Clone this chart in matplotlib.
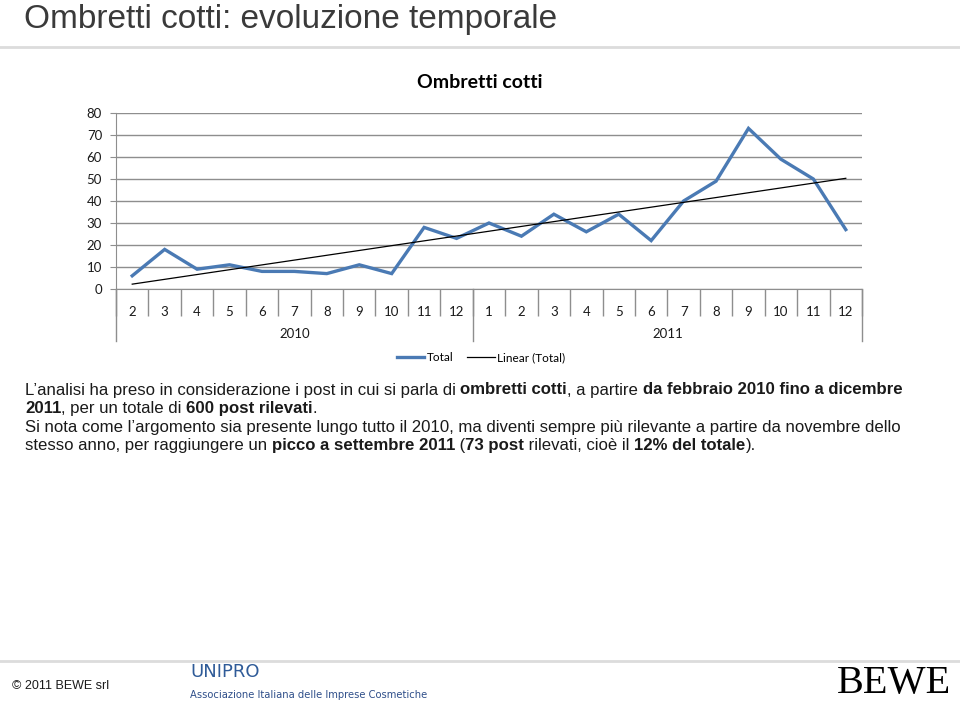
import numpy as np
import matplotlib
matplotlib.use("Agg")
import matplotlib.pyplot as plt
from matplotlib.lines import Line2D

# ---- dati (post rilevati al mese) ----
years = ["2010", "2011"]
months_2010 = [2, 3, 4, 5, 6, 7, 8, 9, 10, 11, 12]
months_2011 = [1, 2, 3, 4, 5, 6, 7, 8, 9, 10, 11, 12]
total_2010 = [6, 18, 9, 11, 8, 8, 7, 11, 7, 28, 23]
total_2011 = [30, 24, 34, 26, 34, 22, 40, 49, 73, 59, 50, 27]

months = months_2010 + months_2011
total = np.array(total_2010 + total_2011, dtype=float)
x = np.arange(len(total))

BLUE = "#4a7ab4"
GRID = "#8e8e8e"
TXT = "#1a1a1a"
CHART_FONT = "Lato"
BODY_FONT = "Liberation Sans"

fig = plt.figure(figsize=(9.6, 7.06), dpi=100)
W, H = 960, 706

def fx(px):
    return px / W

def fy(py):
    return 1 - py / H

# ---- titolo slide ----
fig.text(fx(24), fy(28), "Ombretti cotti: evoluzione temporale", fontsize=24,
         family=BODY_FONT, color="#3a3a3a", va="baseline", ha="left")
fig.add_artist(Line2D([0, 1], [fy(47), fy(47)], color="#dcdcdc", lw=2))

# ---- grafico ----
ax = fig.add_axes([fx(116), fy(289), fx(862) - fx(116), fy(113) - fy(289)])
ax.plot(x, total, color=BLUE, lw=2.4, label="Total", solid_joinstyle="miter")
slope, icpt = np.polyfit(x, total, 1)
ax.plot(x, slope * x + icpt, color="black", lw=0.9, label="Linear (Total)")

ax.set_xlim(-0.5, len(total) - 0.5)
ax.set_ylim(0, 80)
ax.set_yticks(range(0, 81, 10))
ax.yaxis.grid(True, color=GRID, lw=1)
ax.set_axisbelow(True)
for s in ["top", "right"]:
    ax.spines[s].set_visible(False)
for s in ["left", "bottom"]:
    ax.spines[s].set_color(GRID)
ax.tick_params(axis="y", length=4, color=GRID, pad=6, labelsize=9.5,
               labelcolor=TXT)
for lab in ax.get_yticklabels():
    lab.set_family(CHART_FONT)

ax.set_xticks(x)
ax.set_xticklabels([str(m) for m in months], family=CHART_FONT, fontsize=9.5,
                   color=TXT)
ax.set_xticks(np.arange(-0.5, len(total)), minor=True)
ax.tick_params(axis="x", which="major", length=0, pad=12)
ax.tick_params(axis="x", which="minor", length=19.5, color=GRID, width=1)

# livello anni
trans = ax.get_xaxis_transform()
bounds = np.cumsum([0, len(months_2010), len(months_2011)]) - 0.5
for b in bounds:
    ax.plot([b, b], [0, -0.295], transform=trans, color=GRID, lw=1,
            clip_on=False)
for i, yr in enumerate(years):
    ax.text((bounds[i] + bounds[i + 1]) / 2, -0.255, yr, transform=trans,
            ha="center", va="center", family=CHART_FONT, fontsize=9.5,
            color=TXT)

fig.text(0.5, fy(82), "Ombretti cotti", ha="center", va="center",
         family=CHART_FONT, fontweight="bold", fontsize=14, color="black")

handles, labels = ax.get_legend_handles_labels()
fig.legend(handles, labels, loc="center", bbox_to_anchor=(fx(481), fy(358)),
           ncol=2, frameon=False, prop={"family": CHART_FONT, "size": 8.5},
           handlelength=2.3, handletextpad=0.2, columnspacing=1.2)

# ---- testo descrittivo ----
renderer = fig.canvas.get_renderer()

def text_width(s, bold, size):
    t = fig.text(0, 0, s + "l", fontsize=size, family=BODY_FONT,
                 fontweight="bold" if bold else "normal")
    t2 = fig.text(0, 0, "l", fontsize=size, family=BODY_FONT,
                  fontweight="bold" if bold else "normal")
    w = t.get_window_extent(renderer).width - t2.get_window_extent(renderer).width
    t.remove()
    t2.remove()
    return w

def draw_runs(x0, y0, runs, size=12.1):
    xp = x0
    for s, bold in runs:
        fig.text(fx(xp), fy(y0), s, fontsize=size, family=BODY_FONT,
                 fontweight="bold" if bold else "normal", color=TXT,
                 va="center", ha="left")
        xp += text_width(s, bold, size)

lines = [
    [("L\u2019analisi ha preso in considerazione i post in cui si parla di ", False),
     ("ombretti cotti", True), (", a partire ", False),
     ("da febbraio 2010 fino a dicembre", True)],
    [("2011", True), (", per un totale di ", False), ("600 post rilevati", True),
     (".", False)],
    [("Si nota come l\u2019argomento sia presente lungo tutto il 2010, ma diventi "
      "sempre più rilevante a partire da novembre dello", False)],
    [("stesso anno, per raggiungere un ", False),
     ("picco a settembre 2011", True), (" (", False), ("73 post", True),
     (" rilevati, cioè il ", False), ("12% del totale", True), (").", False)],
]
for i, runs in enumerate(lines):
    draw_runs(25, 390 + i * 18.6, runs)

# ---- piè di pagina ----
fig.add_artist(Line2D([0, 1], [fy(661), fy(661)], color="#dcdcdc", lw=2))
fig.text(fx(12), fy(686), "\u00a9 2011 BEWE srl", fontsize=9, family=BODY_FONT,
         color=TXT, va="center")
fig.text(fx(190), fy(672), "UNIPRO", fontsize=13, family="DejaVu Sans",
         color="#2f5b98", va="center")
fig.text(fx(190), fy(695), "Associazione Italiana delle Imprese Cosmetiche",
         fontsize=7.2, family="DejaVu Sans", color="#2f4f8a", va="center")
fig.text(fx(894), fy(683), "BEWE", fontsize=29, family="Liberation Serif",
         color="black", ha="center", va="center")

fig.savefig("out.png", dpi=100)
